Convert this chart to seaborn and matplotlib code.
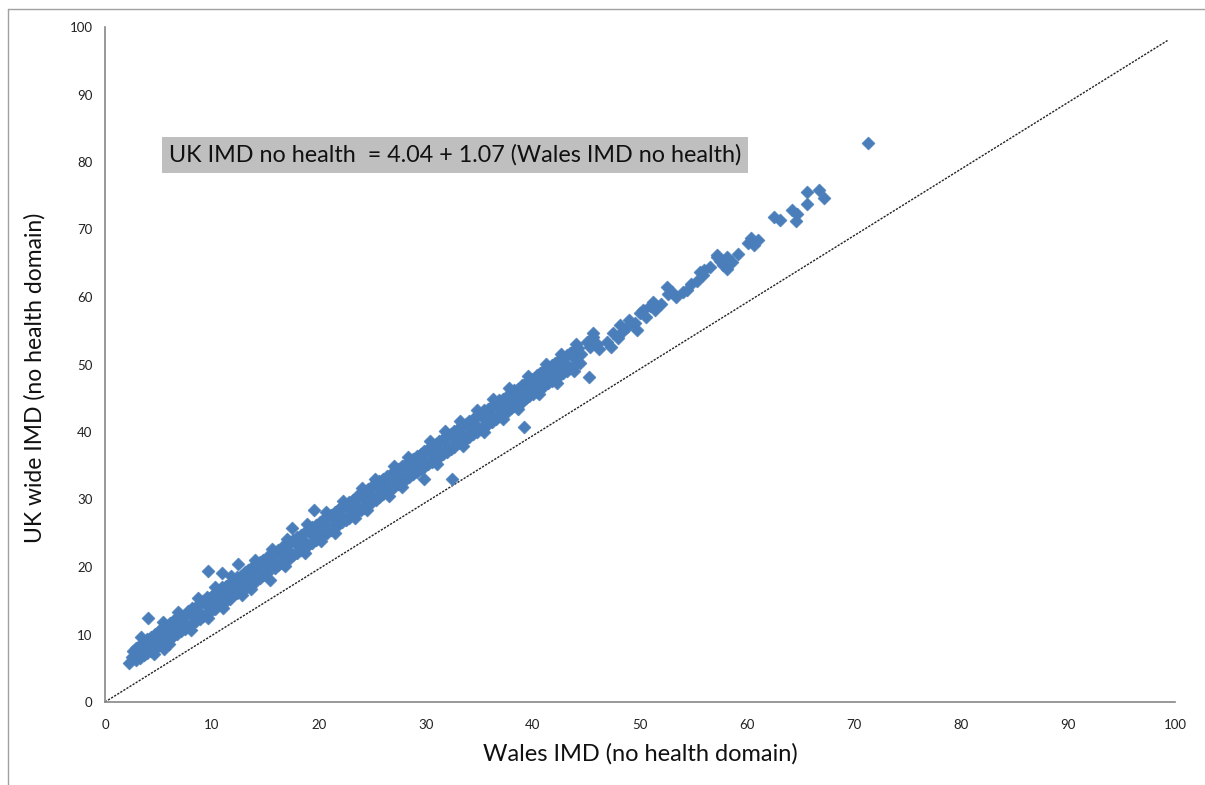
import matplotlib
matplotlib.use("Agg")
import matplotlib.pyplot as plt
import seaborn as sns
import pandas as pd
from matplotlib.lines import Line2D

# ---- data ----
wales_imd = [
    2.2, 2.5, 2.6, 2.9, 3.2, 2.9, 3.6, 3.9, 3.6, 4.3, 4.6, 4.3, 5.0, 5.3, 5.0,
    5.5, 6.0, 5.7, 6.4, 6.7, 6.4, 7.1, 7.4, 7.0, 7.8, 8.1, 7.8, 8.5, 8.8, 8.5,
    9.2, 9.5, 9.2, 9.9, 10.2, 9.9, 10.6, 10.9, 10.6, 11.3, 11.6, 11.3,
    12.0, 12.3, 12.0, 12.7, 13.0, 12.7, 13.4, 13.7, 13.4, 14.1, 14.4, 14.1,
    14.8, 15.1, 14.8, 15.4, 15.8, 15.5, 16.2, 16.5, 16.2, 16.9, 17.2, 16.9,
    17.6, 17.9, 17.6, 18.3, 18.6, 18.3, 19.0, 19.3, 19.0, 19.7, 20.0, 19.7,
    20.4, 20.7, 20.4, 21.1, 21.4, 21.1, 21.8, 22.1, 21.8, 22.5, 22.8, 22.5,
    23.2, 23.5, 23.2, 23.9, 24.2, 23.9, 24.6, 24.9, 24.6, 25.3, 25.6, 25.3,
    26.0, 26.3, 26.0, 26.7, 27.0, 26.7, 27.4, 27.7, 27.4, 28.1, 28.4, 28.1,
    28.8, 29.1, 28.8, 29.5, 29.8, 29.5, 30.2, 30.5, 30.2, 30.9, 31.2, 30.9,
    31.6, 31.9, 31.6, 32.3, 32.6, 32.3, 33.0, 33.3, 33.0, 33.7, 34.0, 33.7,
    34.4, 34.7, 34.4, 35.1, 35.4, 35.1, 35.8, 36.1, 35.8, 36.5, 36.8, 36.5,
    37.2, 37.5, 37.2, 37.9, 38.2, 37.9, 38.6, 38.9, 38.6, 39.3, 39.6, 39.3,
    40.0, 40.3, 40.0, 40.7, 41.0, 40.7, 41.4, 41.7, 41.4, 42.1, 42.4, 42.1,
    42.8, 43.1, 42.8, 43.5, 43.8, 43.5, 44.4, 44.5, 44.2,
    # lower-edge fill
    3.25, 3.95, 4.65, 5.35, 6.05, 6.75, 7.45, 8.15, 8.85, 9.55, 10.25, 10.95,
    11.65, 12.35, 13.05, 13.75, 14.45, 15.15, 15.85, 16.55, 17.25, 17.95,
    18.65, 19.35, 20.05, 20.75, 21.45, 22.15, 22.85, 23.55, 24.25, 24.95,
    25.65, 26.35, 27.05, 27.75, 28.45, 29.15, 29.85, 30.55, 31.25, 31.95,
    32.65, 33.35, 34.05, 34.75, 35.45, 36.15, 36.85, 37.55, 38.25, 38.95,
    39.65, 40.35, 41.05, 41.75, 42.45, 43.15, 43.85,
    # upper-edge fill
    3.25, 3.95, 4.65, 5.35, 6.05, 6.75, 7.45, 8.15, 8.85, 9.55, 10.25, 10.95,
    11.65, 12.35, 13.05, 13.75, 14.45, 15.15, 15.85, 16.55, 17.25, 17.95,
    18.65, 19.35, 20.05, 20.75, 21.45, 22.15, 22.85, 23.55, 24.25, 24.95,
    25.65, 26.35, 27.05, 27.75, 28.45, 29.15, 29.85, 30.55, 31.25, 31.95,
    32.65, 33.35, 34.05, 34.75, 35.45, 36.15, 36.85, 37.55, 38.25, 38.95,
    39.65, 40.35, 41.05, 41.75, 42.45, 43.15, 43.85,
    # ragged lower edge
    4.6, 6.0, 8.0, 9.6, 11.0, 12.8, 13.6, 16.8, 18.7, 20.2, 21.5, 23.4,
    24.5, 26.5, 27.8, 31.0, 33.5, 35.4, 37.2, 38.6, 40.6, 42.2, 43.8,
    # ragged upper edge
    3.4, 5.4, 6.8, 8.7, 10.3, 11.8, 14.0, 15.6, 17.0, 18.9, 20.7, 22.2,
    24.0, 25.2, 27.0, 28.3, 30.4, 31.8, 33.2, 34.8, 36.3, 37.8, 39.5,
    41.2, 42.6, 44.0,
    # sparser upper range
    45.0, 45.3, 45.6, 45.6, 46.2, 46.9, 47.3, 47.5, 48.1, 48.4, 48.8, 49.5,
    49.7, 50.0, 50.3, 50.6, 51.2, 51.4, 52.0, 52.5, 52.6, 53.4, 54.0, 54.4,
    55.3, 55.6, 55.9, 56.5, 57.2, 57.2, 57.8, 58.1, 58.1, 59.2, 60.1, 60.4,
    60.7, 63.1, 62.5, 64.2, 64.7, 64.6, 65.6, 65.6, 66.7, 67.2, 71.3,
    46.0, 47.9, 49.0, 50.9, 53.0, 54.8, 56.0, 57.5, 58.6, 60.5, 61.0,
    # outliers
    4.05, 9.6, 10.9, 12.4, 17.5, 19.5, 29.8, 32.4, 39.2, 45.2,
]
uk_imd = [
    5.8, 6.6, 7.5, 6.2, 7.4, 8.0, 6.9, 8.2, 8.9, 7.6, 8.9, 9.6, 8.4, 9.7, 10.5,
    7.9, 10.4, 11.2, 9.8, 11.1, 12.0, 10.5, 11.9, 12.9, 11.3, 12.7, 13.5, 12.0, 13.4, 14.1,
    12.8, 14.2, 15.0, 13.5, 14.9, 15.6, 14.3, 15.7, 16.5, 15.0, 16.4, 17.2,
    15.8, 17.2, 18.0, 16.5, 17.9, 18.7, 17.3, 18.7, 19.5, 18.0, 19.4, 20.2,
    18.8, 20.2, 21.0, 18.1, 20.9, 21.7, 20.3, 21.7, 22.5, 21.0, 22.4, 23.2,
    21.8, 23.2, 24.0, 22.5, 23.9, 24.7, 23.3, 24.7, 25.5, 24.0, 25.4, 26.2,
    24.8, 26.2, 27.0, 25.5, 26.9, 27.7, 26.3, 27.7, 28.5, 27.0, 28.4, 29.2,
    27.8, 29.2, 30.0, 28.5, 29.9, 30.7, 29.3, 30.7, 31.5, 30.0, 31.4, 32.2,
    30.8, 32.2, 33.0, 31.5, 32.9, 33.7, 32.3, 33.7, 34.5, 33.0, 34.4, 35.2,
    33.8, 35.2, 36.0, 34.5, 35.9, 36.7, 35.3, 36.7, 37.5, 36.0, 37.4, 38.2,
    36.8, 38.2, 39.0, 37.5, 38.9, 39.7, 38.3, 39.7, 40.5, 39.0, 40.4, 41.2,
    39.7, 41.1, 41.9, 40.5, 41.9, 42.7, 41.2, 42.6, 43.4, 42.0, 43.4, 44.2,
    42.7, 44.1, 44.9, 43.5, 44.9, 45.7, 44.2, 45.6, 46.4, 45.0, 46.4, 47.2,
    45.7, 47.1, 47.9, 46.5, 47.9, 48.7, 47.2, 48.6, 49.4, 48.0, 49.4, 50.2,
    48.7, 50.1, 50.9, 49.5, 51.0, 51.7, 50.2, 51.5, 52.4,
    # lower-edge fill
    6.5, 7.2, 7.9, 8.7, 9.4, 10.1, 10.8, 11.6, 12.3, 13.1, 13.8, 14.6,
    15.3, 16.1, 16.8, 17.6, 18.3, 19.1, 19.8, 20.6, 21.3, 22.1,
    22.8, 23.6, 24.3, 25.1, 25.8, 26.6, 27.3, 28.1, 28.8, 29.6,
    30.3, 31.1, 31.8, 32.6, 33.3, 34.1, 34.8, 35.6, 36.3, 37.1,
    37.8, 38.6, 39.3, 40.0, 40.8, 41.5, 42.3, 43.0, 43.8, 44.5,
    45.3, 46.0, 46.8, 47.5, 48.3, 49.0, 49.8,
    # upper-edge fill
    8.5, 9.4, 10.1, 11.0, 11.7, 12.5, 12.9, 14.0, 14.6, 15.5, 16.1, 17.0,
    17.7, 18.5, 19.2, 20.0, 20.7, 21.5, 22.2, 23.0, 23.7, 24.5,
    25.2, 26.0, 26.7, 27.5, 28.2, 29.0, 29.7, 30.5, 31.2, 32.0,
    32.7, 33.5, 34.2, 35.0, 35.7, 36.5, 37.2, 38.0, 38.7, 39.5,
    40.2, 41.0, 41.7, 42.4, 43.2, 43.9, 44.7, 45.4, 46.2, 46.9,
    47.7, 48.4, 49.2, 49.9, 50.7, 51.4, 52.2,
    # ragged lower edge
    7.1, 8.6, 10.7, 12.4, 13.9, 15.8, 16.7, 20.1, 22.1, 23.8, 25.1, 27.2,
    28.4, 30.5, 31.9, 35.3, 38.0, 40.0, 41.9, 43.4, 45.6, 47.3, 49.0,
    # ragged upper edge
    9.7, 11.8, 13.3, 15.4, 17.1, 18.7, 21.0, 22.7, 24.2, 26.3, 28.2, 29.8,
    31.7, 33.0, 34.9, 36.3, 38.6, 40.1, 41.6, 43.3, 44.9, 46.5, 48.3,
    50.1, 51.6, 53.1,
    # sparser upper range
    53.4, 52.6, 54.1, 54.6, 52.3, 53.4, 52.6, 54.6, 55.9, 54.9, 55.6, 56.1,
    55.1, 57.6, 58.1, 57.0, 59.3, 58.1, 58.9, 61.5, 60.5, 60.0, 60.8, 61.0,
    62.3, 63.7, 63.3, 64.5, 66.2, 66.0, 64.7, 66.0, 64.2, 66.4, 68.0, 68.7,
    67.7, 71.4, 71.8, 72.9, 72.3, 71.2, 73.8, 75.6, 75.8, 74.7, 82.8,
    53.0, 54.0, 56.6, 58.6, 60.8, 62.0, 64.0, 65.3, 65.2, 68.2, 68.4,
    # outliers
    12.4, 19.4, 19.1, 20.4, 25.8, 28.5, 33.0, 33.0, 40.8, 48.1,
]
ref_x = [0, 99.3]
ref_y = [0, 98.0]
x_ticks = list(range(0, 101, 10))
y_ticks = list(range(0, 101, 10))
equation = "UK IMD no health  = 4.04 + 1.07 (Wales IMD no health)"
x_label = "Wales IMD (no health domain)"
y_label = "UK wide IMD (no health domain)"

df = pd.DataFrame({"wales": wales_imd, "uk": uk_imd})

sns.set_style("white")
plt.rcParams["font.family"] = ["Lato", "DejaVu Sans"]

fig = plt.figure(figsize=(12.05, 7.85), dpi=100)
ax = fig.add_axes([105 / 1205, 1 - 702 / 785, (1175 - 105) / 1205, (702 - 27) / 785])

ax.plot(ref_x, ref_y, color="#222222", lw=1.0, ls=(0, (1.6, 1.0)), zorder=1)
sns.scatterplot(data=df, x="wales", y="uk", marker="D", s=44, color="#4A7EBB",
                edgecolor="#4A7EBB", linewidth=0.4, ax=ax, zorder=2, legend=False)

ax.set_xlim(0, 100)
ax.set_ylim(0, 100)
ax.set_xticks(x_ticks)
ax.set_yticks(y_ticks)
ax.tick_params(axis="both", direction="out", length=5, width=1, color="#868686",
               labelsize=9.5, labelcolor="#222222", pad=4)
ax.tick_params(axis="x", pad=7)
for side in ["top", "right"]:
    ax.spines[side].set_visible(False)
for side in ["left", "bottom"]:
    ax.spines[side].set_color("#868686")
    ax.spines[side].set_linewidth(1.2)

ax.set_xlabel(x_label, fontsize=17, color="#111111", labelpad=9)
ax.set_ylabel(y_label, fontsize=16.5, color="#111111")
ax.yaxis.set_label_coords(-0.056, 0.48)

ax.text(6.0, 81.0, equation, fontsize=16.8, color="#111111", va="center", ha="left",
        bbox=dict(boxstyle="square,pad=0.3", facecolor="#BFBFBF", edgecolor="none"))

# outer frame lines (left / top) as in the reference
fig.add_artist(Line2D([8 / 1205, 8 / 1205], [0, 1 - 9 / 785], transform=fig.transFigure,
                      color="#A0A0A0", lw=1))
fig.add_artist(Line2D([8 / 1205, 1], [1 - 9 / 785, 1 - 9 / 785], transform=fig.transFigure,
                      color="#A0A0A0", lw=1))

fig.savefig("out.png", dpi=100)
